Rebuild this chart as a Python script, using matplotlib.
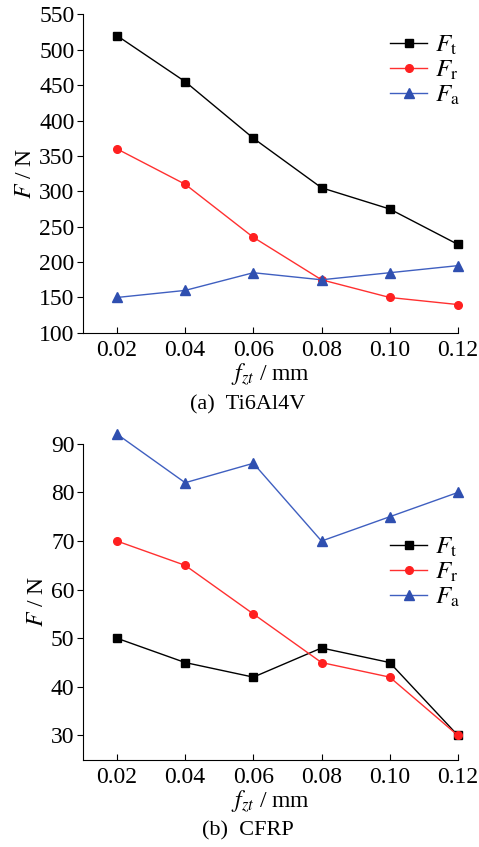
import matplotlib
matplotlib.use('Agg')
import matplotlib.pyplot as plt
from matplotlib.ticker import FormatStrFormatter

plt.rcParams['font.family'] = ['Liberation Serif', 'DejaVu Serif']
plt.rcParams['mathtext.fontset'] = 'stix'

fz = [0.02, 0.04, 0.06, 0.08, 0.10, 0.12]

# (a) Ti6Al4V
ti_ft = [520, 455, 375, 305, 275, 225]
ti_fr = [360, 310, 235, 175, 150, 140]
ti_fa = [150, 160, 185, 175, 185, 195]

# (b) CFRP
cf_ft = [50, 45, 42, 48, 45, 30]
cf_fr = [70, 65, 55, 45, 42, 30]
cf_fa = [92, 82, 86, 70, 75, 80]

labels = [r'$F_{\rm t}$', r'$F_{\rm r}$', r'$F_{\rm a}$']
styles = [dict(color='black', marker='s', ms=6, mfc='black', mec='black'),
          dict(color='#ff3030', marker='o', ms=5.5, mfc='#ff2020', mec='#ff2020'),
          dict(color='#3f5fc0', marker='^', ms=6.5, mfc='#2f4fb0', mec='#2f4fb0')]

fig = plt.figure(figsize=(4.79, 8.47), dpi=100)
ax1 = fig.add_axes([0.173, 0.607, 0.783, 0.376])
ax2 = fig.add_axes([0.173, 0.103, 0.783, 0.373])

def draw(ax, series, ylim, yticks, caption, leg_anchor):
    for y, lab, st in zip(series, labels, styles):
        ax.plot(fz, y, lw=1.0, label=lab, clip_on=False, zorder=3, **st)
    ax.set_xlim(0.01, 0.12)
    ax.set_ylim(*ylim)
    ax.set_xticks(fz)
    ax.set_yticks(yticks)
    ax.xaxis.set_major_formatter(FormatStrFormatter('%.2f'))
    ax.spines['top'].set_visible(False)
    ax.spines['right'].set_visible(False)
    ax.tick_params(axis='x', direction='in', length=4, labelsize=17, pad=5)
    ax.tick_params(axis='y', direction='out', length=4, labelsize=17, pad=2)
    ax.set_ylabel(r'$F$ / N', fontsize=17, labelpad=2)
    ax.set_xlabel(r'$f_{zt}$ / mm', fontsize=17, labelpad=0)
    ax.text(0.44, -0.225, '(a)  Ti6Al4V' if caption == 'a' else '(b)  CFRP',
            transform=ax.transAxes, ha='center', va='center', fontsize=16)
    ax.legend(loc='upper left', bbox_to_anchor=leg_anchor, frameon=False,
              fontsize=18, handlelength=1.45, labelspacing=0.08, handletextpad=0.35,
              borderaxespad=0, borderpad=0)

draw(ax1, [ti_ft, ti_fr, ti_fa], (100, 550), range(100, 551, 50), 'a', (0.82, 0.94))
draw(ax2, [cf_ft, cf_fr, cf_fa], (25, 90), range(30, 91, 10), 'b', (0.82, 0.71))

fig.savefig('out.png', dpi=100, facecolor='white')
